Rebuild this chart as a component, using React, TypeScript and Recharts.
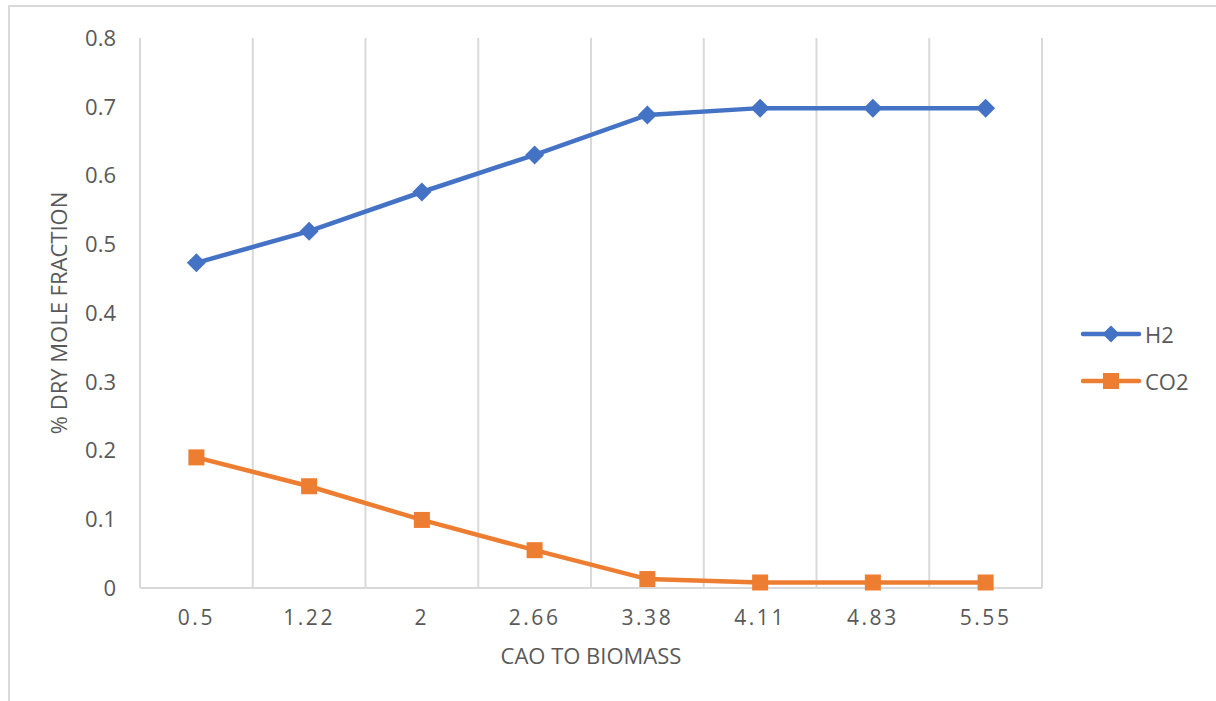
import React from 'react';
import { LineChart, Line, XAxis, YAxis, CartesianGrid, Legend, Label } from 'recharts';

// ─── Data ──────────────────────────────────────────────────────────────────────
const RATIOS = ['0.5', '1.22', '2', '2.66', '3.38', '4.11', '4.83', '5.55'];
const H2 = [0.473, 0.519, 0.576, 0.63, 0.688, 0.698, 0.698, 0.698];
const CO2 = [0.19, 0.148, 0.099, 0.055, 0.013, 0.008, 0.008, 0.008];
const Y_TICKS = [0, 0.1, 0.2, 0.3, 0.4, 0.5, 0.6, 0.7, 0.8];
const SERIES_ORDER = ['H2', 'CO2'];

const data = RATIOS.map((ratio, i) => ({ ratio, H2: H2[i], CO2: CO2[i] }));

// ─── Styling ───────────────────────────────────────────────────────────────────
const BLUE = '#4472C4';
const ORANGE = '#ED7D31';
const TEXT = '#595959';
const GRID = '#d9d9d9';
const FONT = '"Open Sans", "Liberation Sans", sans-serif';

// ─── Markers ───────────────────────────────────────────────────────────────────
const Diamond = ({ cx, cy, r, fill }: { cx: number; cy: number; r: number; fill: string }) => (
    <polygon points={`${cx},${cy - r} ${cx + r},${cy} ${cx},${cy + r} ${cx - r},${cy}`} fill={fill} />
);

const Square = ({ cx, cy, r, fill }: { cx: number; cy: number; r: number; fill: string }) => (
    <rect x={cx - r} y={cy - r} width={r * 2} height={r * 2} fill={fill} />
);

const renderDiamondDot = (props: any) => (
    <Diamond key={`h2-${props.index}`} cx={props.cx} cy={props.cy} r={9.5} fill={BLUE} />
);

const renderSquareDot = (props: any) => (
    <Square key={`co2-${props.index}`} cx={props.cx} cy={props.cy} r={8} fill={ORANGE} />
);

// vertical grid lines sit on the band edges between categories
const categoryBoundaries = ({ offset }: any) => {
    const step = offset.width / RATIOS.length;
    return [...RATIOS.map((_, i) => offset.left + i * step), offset.left + offset.width];
};

// ─── Legend ────────────────────────────────────────────────────────────────────
const LegendContent = ({ payload }: any) => {
    const items = [...(payload ?? [])].sort(
        (a: any, b: any) => SERIES_ORDER.indexOf(a.dataKey) - SERIES_ORDER.indexOf(b.dataKey),
    );
    return (
        <div style={{ fontFamily: FONT, fontSize: 22, color: TEXT }}>
            {items.map((entry: any) => (
                <div key={entry.value} style={{ display: 'flex', alignItems: 'center', height: 47 }}>
                    <svg width={64} height={24} style={{ display: 'block' }}>
                        <line x1={2} y1={12} x2={58} y2={12} stroke={entry.color} strokeWidth={4.5} strokeLinecap="round" />
                        {entry.dataKey === 'H2'
                            ? <Diamond cx={30} cy={12} r={8.5} fill={entry.color} />
                            : <Square cx={30} cy={12} r={8} fill={entry.color} />}
                    </svg>
                    <span>{entry.value}</span>
                </div>
            ))}
        </div>
    );
};

// ─── Axis titles ───────────────────────────────────────────────────────────────
const XTitle = ({ viewBox }: any) => (
    <text x={viewBox.x + viewBox.width / 2} y={viewBox.y + 76} textAnchor="middle"
        fill={TEXT} fontSize={22} fontFamily={FONT}>
        CAO TO BIOMASS
    </text>
);

const YTitle = ({ viewBox }: any) => {
    const x = viewBox.x + 27;
    const y = viewBox.y + viewBox.height / 2;
    return (
        <text x={x} y={y} transform={`rotate(-90, ${x}, ${y})`} textAnchor="middle"
            fill={TEXT} fontSize={22} fontFamily={FONT}>
            % DRY MOLE FRACTION
        </text>
    );
};

export default function App() {
    return (
        <div style={{ position: 'absolute', left: 0, top: 0, width: 1216, height: 701, overflow: 'hidden', background: '#fff' }}>
            <div style={{
                position: 'absolute', left: 8, top: 5, width: 1400, height: 900,
                borderTop: `2px solid ${GRID}`, borderLeft: `2px solid ${GRID}`,
            }} />
            <div style={{ position: 'absolute', left: 0, top: 0 }}>
                <LineChart width={1216} height={701} data={data}
                    margin={{ top: 38, right: 174, left: 40, bottom: 0 }}>
                    <CartesianGrid horizontal={false} stroke={GRID} strokeWidth={2}
                        verticalCoordinatesGenerator={categoryBoundaries} />
                    <XAxis dataKey="ratio" scale="band" height={113}
                        axisLine={{ stroke: GRID, strokeWidth: 2 }} tickLine={false} tickSize={0} tickMargin={22}
                        tick={{ fill: TEXT, fontSize: 21, fontFamily: FONT, letterSpacing: 2.5 }}
                        interval={0}>
                        <Label content={<XTitle />} />
                    </XAxis>
                    <YAxis domain={[0, 0.8]} ticks={Y_TICKS} width={100}
                        axisLine={false} tickLine={false} tickSize={0} tickMargin={24}
                        tick={{ fill: TEXT, fontSize: 22, fontFamily: FONT }}>
                        <Label content={<YTitle />} />
                    </YAxis>
                    <Legend layout="vertical" align="center" verticalAlign="middle" content={<LegendContent />}
                        wrapperStyle={{ left: 1081, top: 310, width: 130 }} />
                    <Line dataKey="H2" name="H2" stroke={BLUE} strokeWidth={4.5}
                        dot={renderDiamondDot} activeDot={false} isAnimationActive={false} />
                    <Line dataKey="CO2" name="CO2" stroke={ORANGE} strokeWidth={4.5}
                        dot={renderSquareDot} activeDot={false} isAnimationActive={false} />
                </LineChart>
            </div>
        </div>
    );
}
